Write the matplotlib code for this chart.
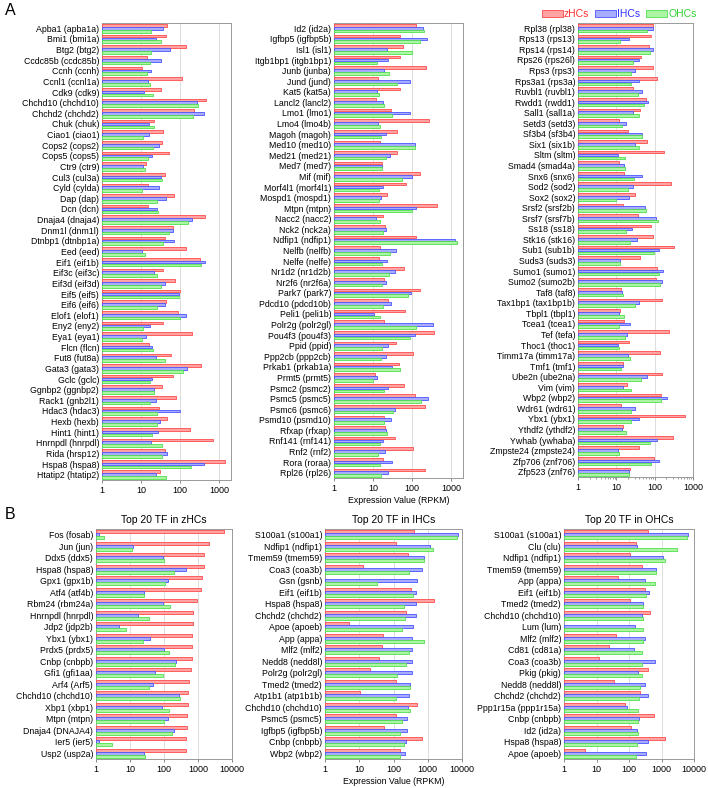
import numpy as np
import matplotlib
matplotlib.use("Agg")
import matplotlib.pyplot as plt
from matplotlib.patches import Patch
from matplotlib.ticker import FixedLocator, LogLocator, NullFormatter

plt.rcParams['font.family'] = ['Liberation Sans', 'DejaVu Sans']

# ---- Panel A, column 1 ----
a1_genes = ['Apba1 (apba1a)', 'Bmi1 (bmi1a)', 'Btg2 (btg2)', 'Ccdc85b (ccdc85b)', 'Ccnh (ccnh)',
            'Ccnl1 (ccnl1a)', 'Cdk9 (cdk9)', 'Chchd10 (chchd10)', 'Chchd2 (chchd2)', 'Chuk (chuk)',
            'Ciao1 (ciao1)', 'Cops2 (cops2)', 'Cops5 (cops5)', 'Ctr9 (ctr9)', 'Cul3 (cul3a)',
            'Cyld (cylda)', 'Dap (dap)', 'Dcn (dcn)', 'Dnaja4 (dnaja4)', 'Dnm1l (dnm1l)',
            'Dtnbp1 (dtnbp1a)', 'Eed (eed)', 'Eif1 (eif1b)', 'Eif3c (eif3c)', 'Eif3d (eif3d)',
            'Eif5 (eif5)', 'Eif6 (eif6)', 'Elof1 (elof1)', 'Eny2 (eny2)', 'Eya1 (eya1)',
            'Flcn (flcn)', 'Fut8 (fut8a)', 'Gata3 (gata3)', 'Gclc (gclc)', 'Ggnbp2 (ggnbp2)',
            'Rack1 (gnb2l1)', 'Hdac3 (hdac3)', 'Hexb (hexb)', 'Hint1 (hint1)', 'Hnrnpdl (hnrpdl)',
            'Rida (hrsp12)', 'Hspa8 (hspa8)', 'Htatip2 (htatip2)']
a1_zhc = [47, 44, 140, 14, 10.6, 113, 33, 465, 230, 21, 36, 35, 52, 13.5, 41, 15, 70, 15, 430, 65,
          41, 140, 325, 36, 75, 100, 43, 89, 37, 200, 16, 60, 345, 65, 35, 78, 28, 45, 180, 675,
          42, 1380, 31]
a1_ihc = [37, 24, 56, 33, 18, 15, 12, 263, 415, 16, 16, 28, 19, 11, 33, 28, 44, 25, 203, 64,
          70, 10.6, 430, 22, 40, 95, 41, 140, 17, 13.5, 19.5, 24, 150, 19, 21.5, 24, 100, 30, 27, 18,
          47, 415, 24]
a1_ohc = [18, 33, 18, 17, 14, 17, 20, 290, 210, 22, 11, 20, 15, 12.7, 35, 10.6, 26, 27, 160, 52,
          37, 12.7, 345, 26, 32, 96, 26, 100, 11, 10.6, 20, 40, 120, 17, 22, 17, 26, 25, 19, 35,
          34, 195, 44]

# ---- Panel A, column 2 ----
a2_genes = ['Id2 (id2a)', 'Igfbp5 (igfbp5b)', 'Isl1 (isl1)', 'Itgb1bp1 (itgb1bp1)', 'Junb (junba)',
            'Jund (jund)', 'Kat5 (kat5a)', 'Lancl2 (lancl2)', 'Lmo1 (lmo1)', 'Lmo4 (lmo4b)',
            'Magoh (magoh)', 'Med10 (med10)', 'Med21 (med21)', 'Med7 (med7)', 'Mif (mif)',
            'Morf4l1 (morf4l1)', 'Mospd1 (mospd1)', 'Mtpn (mtpn)', 'Nacc2 (nacc2)', 'Nck2 (nck2a)',
            'Ndfip1 (ndfip1)', 'Nelfb (nelfb)', 'Nelfe (nelfe)', 'Nr1d2 (nr1d2b)', 'Nr2f6 (nr2f6a)',
            'Park7 (park7)', 'Pdcd10 (pdcd10b)', 'Peli1 (peli1b)', 'Polr2g (polr2gl)', 'Pou4f3 (pou4f3)',
            'Ppid (ppid)', 'Ppp2cb (ppp2cb)', 'Prkab1 (prkab1a)', 'Prmt5 (prmt5)', 'Psmc2 (psmc2)',
            'Psmc5 (psmc5)', 'Psmc6 (psmc6)', 'Psmd10 (psmd10)', 'Rfxap (rfxap)', 'Rnf141 (rnf141)',
            'Rnf2 (rnf2)', 'Rora (roraa)', 'Rpl26 (rpl26)']
a2_zhc = [124, 50, 60, 50, 230, 13.5, 48, 12, 29, 265, 42, 15, 42, 17, 155, 71, 23, 445, 17.5, 20.5,
          124, 15, 14, 62, 19.6, 155, 24.5, 67, 19.6, 355, 39, 108, 47, 11.2, 63, 117, 208, 19.6,
          20.5, 36, 108, 18, 208]
a2_ihc = [195, 235, 23, 24, 19, 90, 12.9, 17.5, 90, 13.5, 22, 117, 27.5, 16.5, 102, 18, 16, 129,
          12, 21, 1240, 39, 23, 37, 22, 94, 29, 10.4, 335, 115, 24, 22, 31, 12.7, 24.5, 250, 37, 29,
          22, 18, 20.5, 31, 24.5]
a2_ohc = [200, 155, 98, 12.7, 26, 42, 14, 18.5, 31, 15, 16, 120, 22, 17, 56, 14, 13.8, 102, 15,
          17.5, 1400, 27.5, 17, 26, 17, 77, 18, 15, 124, 87, 17, 16, 50, 10, 19, 170, 33, 19, 23,
          15, 13.5, 15, 16]

# ---- Panel A, column 3 ----
a3_genes = ['Rpl38 (rpl38)', 'Rps13 (rps13)', 'Rps14 (rps14)', 'Rps26 (rps26l)', 'Rps3 (rps3)',
            'Rps3a1 (rps3a)', 'Ruvbl1 (ruvbl1)', 'Rwdd1 (rwdd1)', 'Sall1 (sall1a)', 'Setd3 (setd3)',
            'Sf3b4 (sf3b4)', 'Six1 (six1b)', 'Sltm (sltm)', 'Smad4 (smad4a)', 'Snx6 (snx6)',
            'Sod2 (sod2)', 'Sox2 (sox2)', 'Srsf2 (srsf2b)', 'Srsf7 (srsf7b)', 'Ss18 (ss18)',
            'Stk16 (stk16)', 'Sub1 (sub1b)', 'Suds3 (suds3)', 'Sumo1 (sumo1)', 'Sumo2 (sumo2b)',
            'Taf8 (taf8)', 'Tax1bp1 (tax1bp1b)', 'Tbpl1 (tbpl1)', 'Tcea1 (tcea1)', 'Tef (tefa)',
            'Thoc1 (thoc1)', 'Timm17a (timm17a)', 'Tmf1 (tmf1)', 'Ube2n (ube2na)', 'Vim (vim)',
            'Wbp2 (wbp2)', 'Wdr61 (wdr61)', 'Ybx1 (ybx1)', 'Ythdf2 (ythdf2)', 'Ywhab (ywhaba)',
            'Zmpste24 (zmpste24)', 'Zfp706 (znf706)', 'Zfp523 (znf76)']
a3_zhc = [92, 82, 70, 45, 92, 117, 26.5, 61, 42, 11.5, 19.6, 64, 178, 11.5, 15.5, 270, 31.5, 14.6,
          36, 82, 92, 323, 42, 117, 110, 13, 158, 12.2, 16, 235, 21, 135, 14.6, 155, 18.5, 145,
          13.2, 630, 15, 297, 38, 98, 22.5]
a3_ihc = [92, 22, 92, 40, 30, 40, 46, 67, 26.5, 17.5, 48, 31.5, 10.8, 15.5, 46, 26.5, 21, 57, 110,
          25, 34, 126, 12.2, 167, 158, 13.7, 38, 11.5, 22.5, 18.5, 10.8, 19.6, 15, 64, 15, 208,
          30, 40, 13.7, 115, 10.8, 129, 21]
a3_ohc = [63, 12.2, 77, 26.5, 23.5, 23.5, 36, 54, 40, 13.7, 48, 40, 16.5, 16.5, 28.5, 19.6, 10,
          61, 124, 17.5, 22.5, 98, 12.2, 132, 140, 14.6, 30, 15.5, 11.5, 16.5, 12, 22.5, 13, 45,
          23.5, 145, 24.5, 23.5, 17.5, 74, 11.5, 82, 21]

# ---- Panel B: top 20 TF in zHCs ----
b1_genes = ['Fos (fosab)', 'Jun (jun)', 'Ddx5 (ddx5)', 'Hspa8 (hspa8)', 'Gpx1 (gpx1b)', 'Atf4 (atf4b)',
            'Rbm24 (rbm24a)', 'Hnrnpdl (hnrpdl)', 'Jdp2 (jdp2b)', 'Ybx1 (ybx1)', 'Prdx5 (prdx5)',
            'Cnbp (cnbpb)', 'Gfi1 (gfi1aa)', 'Arf4 (Arf5)', 'Chchd10 (chchd10)', 'Xbp1 (xbp1)',
            'Mtpn (mtpn)', 'Dnaja4 (DNAJA4)', 'Ier5 (ier5)', 'Usp2 (usp2a)']
b1_zhc = [5900, 2130, 1470, 1470, 1310, 1230, 930, 690, 690, 650, 650, 650, 620, 540, 495, 495,
          460, 460, 440, 440]
b1_ihc = [1.2, 12.5, 91, 440, 134, 25, 91, 17.3, 4.8, 39, 101, 233, 55, 48, 268, 85, 128, 203,
          1.2, 25]
b1_ohc = [1.7, 11.5, 102, 203, 110, 26, 147, 37, 7.8, 24, 144, 208, 91, 37, 293, 144, 101, 168,
          3.0, 28.5]

# ---- Panel B: top 20 TF in IHCs ----
b2_genes = ['S100a1 (s100a1)', 'Ndfip1 (ndfip1)', 'Tmem59 (tmem59)', 'Coa3 (coa3b)', 'Gsn (gsnb)',
            'Eif1 (eif1b)', 'Hspa8 (hspa8)', 'Chchd2 (chchd2)', 'Apoe (apoeb)', 'App (appa)',
            'Mlf2 (mlf2)', 'Nedd8 (nedd8l)', 'Polr2g (polr2gl)', 'Tmed2 (tmed2)', 'Atp1b1 (atp1b1b)',
            'Chchd10 (chchd10)', 'Psmc5 (psmc5)', 'Igfbp5 (igfbp5b)', 'Cnbp (cnbpb)', 'Wbp2 (wbp2)']
b2_zhc = [410, 120, 270, 12.7, np.nan, 330, 1480, 237, 4.9, 49, 46, 38, 20.4, 117, 10.3, 500, 120,
          53, 660, 157]
b2_ihc = [7600, 1180, 760, 690, 500, 455, 440, 440, 380, 355, 355, 355, 347, 310, 285, 270, 253,
          253, 237, 220]
b2_ohc = [7100, 1380, 760, 285, 33, 370, 208, 220, 180, 760, 290, 237, 128, 310, 117, 310, 180,
          157, 208, 157]

# ---- Panel B: top 20 TF in OHCs ----
b3_genes = ['S100a1 (s100a1)', 'Clu (clu)', 'Ndfip1 (ndfip1)', 'Tmem59 (tmem59)', 'App (appa)',
            'Eif1 (eif1b)', 'Tmed2 (tmed2)', 'Chchd10 (chchd10)', 'Lum (lum)', 'Mlf2 (mlf2)',
            'Cd81 (cd81a)', 'Coa3 (coa3b)', 'Pkig (pkig)', 'Nedd8 (nedd8l)', 'Chchd2 (chchd2)',
            'Ppp1r15a (ppp1r15a)', 'Cnbp (cnbpb)', 'Id2 (id2a)', 'Hspa8 (hspa8)', 'Apoe (apoeb)']
b3_zhc = [380, 160, 110, 246, 45, 320, 108, 455, np.nan, 41, 25, 12, 395, 35, 225, 77, 605, 115,
          1320, 4.4]
b3_ihc = [6600, 180, 1150, 700, 320, 425, 277, 258, 153, 320, 146, 620, 194, 320, 395, 89, 208,
          180, 395, 345]
b3_ohc = [6300, 2900, 1240, 700, 650, 345, 277, 277, 277, 277, 258, 258, 258, 225, 208, 194, 194,
          194, 180, 168]

W, H = 708, 788
RED_FACE, RED_EDGE = '#ffa3a3', '#ff4b4b'
BLUE_FACE, BLUE_EDGE = '#a7acff', '#4a55ff'
GREEN_FACE, GREEN_EDGE = '#acf5a4', '#4fe04a'


def px_axes(fig, left, top, right, bottom):
    return fig.add_axes([left / W, 1 - bottom / H, (right - left) / W, (bottom - top) / H])


def draw_panel(ax, genes, zhc, ihc, ohc, xmax, title=None, xlabel=None):
    n = len(genes)
    y = np.arange(n)
    h = 0.27
    series = [(zhc, -h, RED_FACE, RED_EDGE), (ihc, 0, BLUE_FACE, BLUE_EDGE),
              (ohc, h, GREEN_FACE, GREEN_EDGE)]
    for vals, off, fc, ec in series:
        vals = np.asarray(vals, dtype=float)
        ok = ~np.isnan(vals)
        ax.barh(y[ok] + off, vals[ok] - 1, left=1, height=h * 0.92, color=fc,
                edgecolor=ec, linewidth=0.6, zorder=3)
    ax.set_xscale('log')
    ax.set_xlim(1, xmax)
    ax.set_ylim(n - 0.5, -0.5)
    ax.set_yticks(y)
    ax.set_yticklabels(genes, fontsize=6.3)
    ax.tick_params(axis='y', length=0, pad=2)

    majors = [v for v in [1, 10, 100, 1000, 10000] if v <= xmax]
    ax.xaxis.set_major_locator(FixedLocator(majors))
    ax.set_xticklabels([str(v) for v in majors], fontsize=6.5)
    ax.xaxis.set_minor_locator(LogLocator(base=10, subs=np.arange(2, 10)))
    ax.xaxis.set_minor_formatter(NullFormatter())
    ax.tick_params(axis='x', which='major', length=2.5, width=0.6, color='#777777', pad=2)
    ax.tick_params(axis='x', which='minor', length=1.5, width=0.5, color='#777777')
    ax.grid(axis='x', which='major', color='#d8d8d8', linewidth=0.6, zorder=0)
    ax.set_axisbelow(True)
    for s in ax.spines.values():
        s.set_color('#999999')
        s.set_linewidth(0.7)
    if title:
        ax.set_title(title, fontsize=7.5, pad=4)
    if xlabel:
        ax.set_xlabel(xlabel, fontsize=6.3, labelpad=2)


fig = plt.figure(figsize=(W / 100, H / 100), dpi=100)

ax = px_axes(fig, 102, 23, 231, 480)
draw_panel(ax, a1_genes, a1_zhc, a1_ihc, a1_ohc, 2000)
ax = px_axes(fig, 334, 23, 463, 478)
draw_panel(ax, a2_genes, a2_zhc, a2_ihc, a2_ohc, 2000, xlabel='Expression Value (RPKM)')
ax = px_axes(fig, 578, 23, 693, 477)
draw_panel(ax, a3_genes, a3_zhc, a3_ihc, a3_ohc, 1000)

ax = px_axes(fig, 96, 529, 232, 759)
draw_panel(ax, b1_genes, b1_zhc, b1_ihc, b1_ohc, 10000, title='Top 20 TF in zHCs')
ax = px_axes(fig, 325, 529, 462, 759)
draw_panel(ax, b2_genes, b2_zhc, b2_ihc, b2_ohc, 10000, title='Top 20 TF in IHCs',
           xlabel='Expression Value (RPKM)')
ax = px_axes(fig, 564, 529, 694, 759)
draw_panel(ax, b3_genes, b3_zhc, b3_ihc, b3_ohc, 10000, title='Top 20 TF in OHCs')

handles = [Patch(facecolor=RED_FACE, edgecolor=RED_EDGE, linewidth=0.6),
           Patch(facecolor=BLUE_FACE, edgecolor=BLUE_EDGE, linewidth=0.6),
           Patch(facecolor=GREEN_FACE, edgecolor=GREEN_EDGE, linewidth=0.6)]
fig.legend(handles, ['zHCs', 'IHCs', 'OHCs'], loc='upper right',
           bbox_to_anchor=(704 / W, 1 - 2 / H), ncol=3, frameon=False, fontsize=7.5,
           labelcolor=['#ff3030', '#3030ff', '#30d030'], handlelength=2.0, handleheight=0.55,
           handletextpad=0.1, columnspacing=0.6, borderpad=0.2)

fig.text(5 / W, 1 - 3 / H, 'A', fontsize=11.5, va='top', ha='left')
fig.text(5 / W, 1 - 507 / H, 'B', fontsize=11.5, va='top', ha='left')

fig.savefig('out.png', dpi=100)
